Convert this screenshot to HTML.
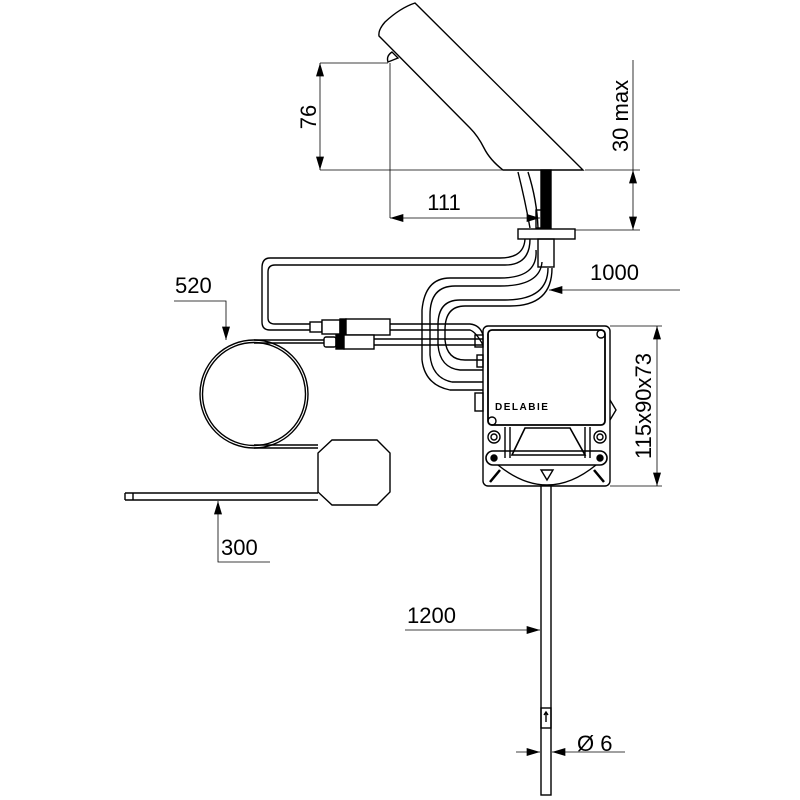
<!DOCTYPE html>
<html><head><style>html,body{margin:0;padding:0;background:#fff}svg{display:block}text{font-family:"Liberation Sans",sans-serif;fill:#000}</style></head><body>
<svg width="800" height="800" viewBox="0 0 800 800" xmlns="http://www.w3.org/2000/svg">
<defs>
<marker id="a" viewBox="0 0 10 6" refX="10" refY="3" markerWidth="14" markerHeight="8" markerUnits="userSpaceOnUse" orient="auto-start-reverse"><path d="M0,0L10,3L0,6z" fill="#000"/></marker>
</defs>
<g fill="none" stroke="#000" stroke-width="1.4">
<path d="M415,3 L583,170 L503,170 Q490,160 484,148 Q478,136 470,128 L379,36 Q378,30 385,22 Q400,8 415,3Z" fill="#fff"/>
<path d="M388,62 q-2,-6 4,-10 l6,6 z"/>
<rect x="541" y="170" width="10" height="58" fill="#000"/>
<path d="M518,172 Q525,200 530,228 M528,172 Q537,200 538,228"/>
<rect x="536" y="210" width="6" height="18"/>
<rect x="518" y="229" width="57" height="10" fill="#fff"/>
<rect x="538" y="239" width="16" height="28"/>
<path d="M525,239 Q524,258 500,258 L270,258 Q262,258 262,268 L262,322 Q262,330 270,330 L310,330"/>
<path d="M530,239 Q530,265 505,265 L275,265 Q268,265 268,272 L268,318 Q268,324 275,324 L310,324"/>
<path d="M536,250 Q538,278 500,278 L450,278 Q425,278 422,310 L422,360"/>
<path d="M542,262 Q540,286 500,286 L455,286 Q430,286 430,315 L430,355"/>
<path d="M548,268 Q548,300 505,300 L460,300 Q438,300 438,325 L438,345"/>
<path d="M552,268 Q552,306 510,306 L465,306 Q445,306 445,330 L445,340"/>
<path d="M422,360 Q425,385 450,390 L483,390 M430,355 Q432,378 452,382 L483,382 M438,345 Q440,368 460,370 L483,370 M445,340 Q447,360 465,360 L483,360"/>
<rect x="310" y="322" width="12" height="10" fill="#fff"/>
<rect x="322" y="320" width="18" height="14" fill="#fff"/>
<rect x="340" y="319" width="6" height="16" fill="#000"/>
<rect x="346" y="319" width="44" height="16" fill="#fff"/>
<path d="M390,324 L470,324 Q480,325 483,335 M390,330 L470,330 Q476,332 483,345"/>
<rect x="324" y="337" width="12" height="10" rx="2" fill="#fff"/>
<rect x="336" y="335" width="8" height="14" fill="#000"/>
<rect x="344" y="335" width="30" height="14" fill="#fff"/>
<path d="M374,339 L483,339 M374,345 L483,345"/>
<circle cx="254" cy="394" r="54"/><circle cx="254" cy="394" r="51.5"/>
<path d="M254,340 L324,340 M254,343 L324,343 M254,448 L318,448 M254,445 L318,445"/>
<path d="M332,440 L377,440 L390,453 L390,492 L377,505 L332,505 L318,492 L318,453Z" fill="#fff"/>
<path d="M318,493 L125,493 M318,500 L125,500 M125,493 L125,500 M133,493 L133,500"/>
<rect x="483" y="326" width="127" height="160" rx="5" fill="#fff"/>
<rect x="488" y="330" width="117" height="95" rx="4" stroke-width="1.8"/>
<circle cx="601" cy="334" r="4"/><circle cx="492" cy="421" r="4"/>
<rect x="475" y="335" width="8" height="12"/><rect x="477" y="355" width="6" height="12"/><rect x="475" y="393" width="8" height="18"/>
<path d="M610,400 L616,410 L610,420"/>
<circle cx="494" cy="437" r="6"/><circle cx="494" cy="437" r="3"/>
<circle cx="600" cy="437" r="6"/><circle cx="600" cy="437" r="3"/>
<path d="M505,427 L505,458 M510,427 L510,458 M585,427 L585,458 M590,427 L590,458"/>
<path d="M525,428 L570,428 L585,455 L512,455 Z" stroke-width="1.6"/>
<rect x="486" y="451" width="121" height="14" rx="7" stroke-width="1.6"/>
<circle cx="494" cy="458" r="3" fill="#000"/><circle cx="600" cy="458" r="3" fill="#000"/>
<path d="M498,465 Q547,505 596,465"/>
<path d="M490,482 L500,470 M604,482 L594,470" stroke-width="2.5"/>
<path d="M541,470 L553,470 L547,480Z"/>
<rect x="541" y="486" width="10" height="309" fill="#fff"/>
<rect x="541" y="708" width="10" height="20"/>
<path d="M546,712 L546,722 M544,715 L546,712 L548,715"/>
</g>
<text x="495" y="410" font-size="10" font-weight="bold" letter-spacing="1.5">DELABIE</text>
<g fill="none" stroke="#000" stroke-width="0.8">
<path d="M320,63 L388,63 M320,170 L503,170"/>
<path d="M320,63 L320,170" marker-start="url(#a)" marker-end="url(#a)"/>
<path d="M390,63 L390,218"/>
<path d="M390,218 L540,218" marker-start="url(#a)" marker-end="url(#a)"/>
<path d="M585,170 L640,170 M575,230 L640,230"/>
<path d="M633,170 L633,230" marker-start="url(#a)" marker-end="url(#a)"/>
<path d="M633,60 L633,170"/>
<path d="M680,290 L549,290" marker-end="url(#a)"/>
<path d="M610,326 L662,326 M610,486 L662,486"/>
<path d="M657,326 L657,486" marker-start="url(#a)" marker-end="url(#a)"/>
<path d="M174,301 L226,301 L226,340" marker-end="url(#a)"/>
<path d="M270,562 L218,562 L218,501" marker-end="url(#a)"/>
<path d="M405,630 L540,630" marker-end="url(#a)"/>
<path d="M516,752 L540,752" marker-end="url(#a)"/>
<path d="M625,752 L552,752" marker-end="url(#a)"/>
</g>
<g font-size="22">
<text transform="translate(316,117) rotate(-90)" text-anchor="middle">76</text>
<text x="444" y="210" text-anchor="middle">111</text>
<text transform="translate(628,116) rotate(-90)" text-anchor="middle">30 max</text>
<text x="590" y="280">1000</text>
<text transform="translate(651,406) rotate(-90)" text-anchor="middle">115x90x73</text>
<text x="175" y="293">520</text>
<text x="221" y="555">300</text>
<text x="407" y="623">1200</text>
<text x="577" y="751">Ø 6</text>
</g>
</svg>
</body></html>
